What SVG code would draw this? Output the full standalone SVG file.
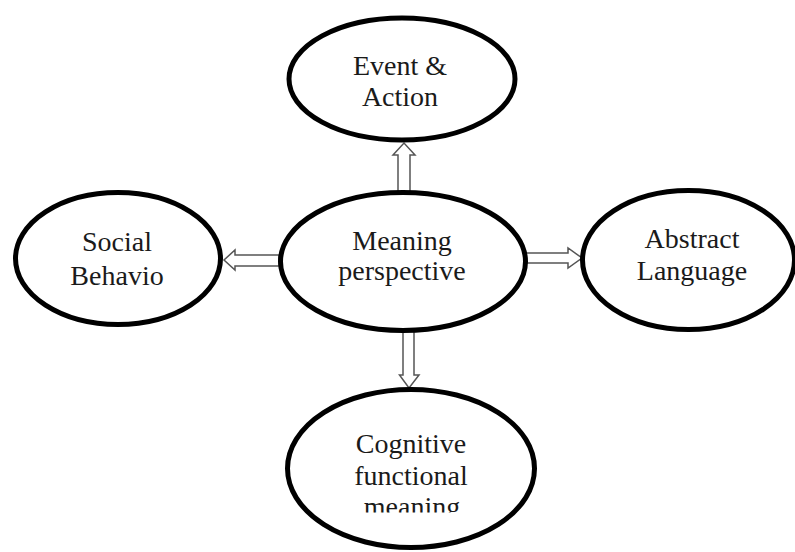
<svg xmlns="http://www.w3.org/2000/svg" width="795" height="552" viewBox="0 0 795 552">
<defs>
<style>
.node{fill:#fff;stroke:#000;stroke-width:5}
.arrow{fill:#fff;stroke:#555;stroke-width:1.5;stroke-linejoin:miter}
.label{font-family:"Liberation Serif","Times New Roman",serif;font-size:28px;fill:#1a1a1a;text-anchor:middle}
</style>
<clipPath id="clipBottom"><rect x="0" y="0" width="795" height="512.5"/></clipPath>
</defs>
<rect width="795" height="552" fill="#fff"/>
<g id="connectors">
<polygon class="arrow" points="398,192 398,155 393,155 404,143 415,155 410,155 410,192"/>
<polygon class="arrow" points="279,255 235,255 235,250 224,260 235,270 235,266 279,266"/>
<polygon class="arrow" points="522,253 568,253 568,248 582,258 568,268 568,263 522,263"/>
<polygon class="arrow" points="403,327 403,375 399.5,375 409,388 419,375 414,375 414,327"/>
</g>
<g id="node-event">
<ellipse class="node" cx="402" cy="79" rx="113" ry="61"/>
<text class="label" x="400" y="75">Event &amp;</text>
<text class="label" x="400" y="106">Action</text>
</g>
<g id="node-meaning">
<ellipse class="node" cx="403" cy="261.5" rx="122.5" ry="69"/>
<text class="label" x="402" y="250">Meaning</text>
<text class="label" x="402" y="280">perspective</text>
</g>
<g id="node-social">
<ellipse class="node" cx="118" cy="258.5" rx="102.5" ry="66"/>
<text class="label" x="117" y="251">Social</text>
<text class="label" x="117" y="285">Behavio</text>
</g>
<g id="node-abstract">
<ellipse class="node" cx="688.5" cy="260" rx="106" ry="69.5"/>
<text class="label" x="692" y="248">Abstract</text>
<text class="label" x="692" y="280">Language</text>
</g>
<g id="node-cognitive">
<ellipse class="node" cx="411" cy="468.5" rx="123.5" ry="79"/>
<text class="label" x="411" y="453">Cognitive</text>
<text class="label" x="411" y="485">functional</text>
<text class="label" x="412" y="516" clip-path="url(#clipBottom)">meaning</text>
</g>
</svg>
